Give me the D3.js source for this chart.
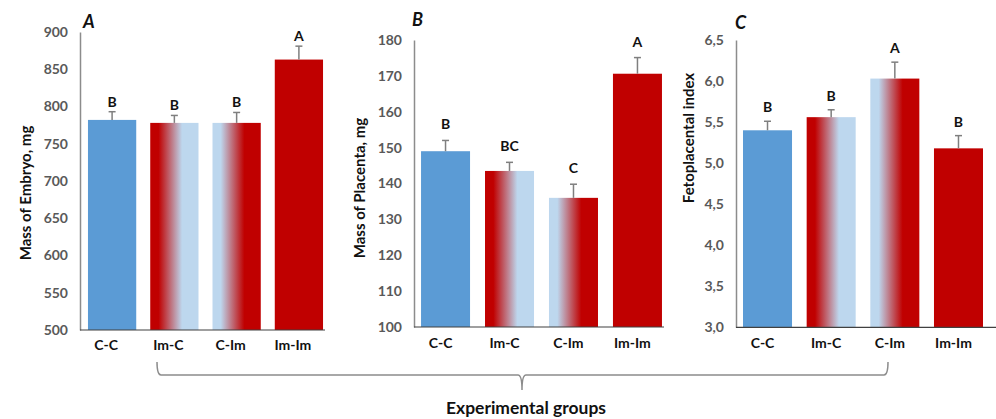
<!DOCTYPE html>
<html><head><meta charset="utf-8">
<script src="https://cdn.jsdelivr.net/npm/d3@7"></script>
<style>
html,body{margin:0;padding:0;background:#fff;}
text{font-family:Lato,"Liberation Sans",Arial,sans-serif;}
</style></head>
<body><svg id="chart" width="996" height="419"></svg>
<script>
const groups = ["C-C","Im-C","C-Im","Im-Im"];
const fills = ["blue","redToBlue","blueToRed","red"];

const embryoMass = [782, 778, 778, 863];
const embryoErr = [11, 10, 14, 18];
const embryoLetters = ["B","B","B","A"];
const embryoTicks = [500,550,600,650,700,750,800,850,900];

const placentaMass = [149, 143.5, 136, 170.6];
const placentaErr = [3, 2.4, 3.8, 4.5];
const placentaLetters = ["B","BC","C","A"];
const placentaTicks = [100,110,120,130,140,150,160,170,180];

const fpIndex = [5.40, 5.56, 6.03, 5.18];
const fpErr = [0.11, 0.09, 0.20, 0.155];
const fpLetters = ["B","B","A","B"];
const fpTicks = [3.0,3.5,4.0,4.5,5.0,5.5,6.0,6.5];

const panelTitles = ["A","B","C"];
const yTitles = ["Mass of Embryo, mg","Mass of Placenta, mg","Fetoplacental index"];
const xTitle = "Experimental groups";

const svg = d3.select("#chart");
const defs = svg.append("defs");
const RED = "#c00000", BLUE = "#5b9bd5", LIGHT = "#bdd7ee";
function grad(id, c1, c2){
  const g = defs.append("linearGradient").attr("id", id).attr("x1","0%").attr("x2","100%").attr("y1","0%").attr("y2","0%");
  [[0,c1],[0.17,c1],[0.66,c2],[1,c2]].forEach(([o,c]) => g.append("stop").attr("offset", o).attr("stop-color", c));
}
grad("redToBlue", RED, LIGHT);
grad("blueToRed", LIGHT, RED);
const fillMap = {blue: BLUE, red: RED, redToBlue: "url(#redToBlue)", blueToRed: "url(#blueToRed)"};

const panels = [
  {values: embryoMass, err: embryoErr, letters: embryoLetters, ticks: embryoTicks, fmt: d3.format("d"),
   domain:[500,900], yRange:[330,32], xRange:[80,331], pad:0.225, outer:0.128, axisEnd:325,
   titleX:83, titleY:28, yLabelX:26, yLabelY:193, letterGap:5, xLabelY:350, labelShift:-6},
  {values: placentaMass, err: placentaErr, letters: placentaLetters, ticks: placentaTicks, fmt: d3.format("d"),
   domain:[100,180], yRange:[327,40], xRange:[414,669], pad:0.234, outer:0.11, axisEnd:664,
   titleX:412, titleY:26, yLabelX:360, yLabelY:188, letterGap:11, xLabelY:348, labelShift:-5},
  {values: fpIndex, err: fpErr, letters: fpLetters, ticks: fpTicks, fmt: d => d3.format(".1f")(d).replace(".", ","),
   domain:[3,6.5], yRange:[327.3,40], xRange:[736,990], pad:0.23, outer:0.11, axisEnd:996,
   titleX:735, titleY:29, yLabelX:689, yLabelY:138, letterGap:9, xLabelY:348, labelShift:-5}
];

panels.forEach((p, pi) => {
  const g = svg.append("g");
  const y = d3.scaleLinear().domain(p.domain).range(p.yRange);
  const x = d3.scaleBand().domain(groups).range(p.xRange).paddingInner(p.pad).paddingOuter(p.outer);

  // y axis
  const yAxis = d3.axisLeft(y).tickValues(p.ticks).tickFormat(p.fmt).tickSize(0).tickPadding(12);
  const ya = g.append("g").attr("transform", `translate(${p.xRange[0]},0)`).call(yAxis);
  ya.select(".domain").attr("stroke", "#8c8c8c").attr("stroke-width", 1.5);
  ya.selectAll("text").attr("fill", "#595959").attr("font-size", 14).attr("font-weight", "bold")
    .style("font-family", "Lato, 'Liberation Sans', sans-serif");

  // bars
  g.selectAll("rect.bar").data(p.values).join("rect").attr("class","bar")
    .attr("x", (d,i) => x(groups[i])).attr("width", x.bandwidth())
    .attr("y", d => y(d)).attr("height", d => y(p.domain[0]) - y(d))
    .attr("fill", (d,i) => fillMap[fills[i]]);

  // baseline
  g.append("line").attr("x1", p.xRange[0]).attr("x2", p.axisEnd)
    .attr("y1", y(p.domain[0])).attr("y2", y(p.domain[0]))
    .attr("stroke", "#404040").attr("stroke-width", 1.2);

  // error bars
  p.values.forEach((v, i) => {
    const cx = x(groups[i]) + x.bandwidth()/2;
    const top = y(v + p.err[i]);
    g.append("line").attr("x1", cx).attr("x2", cx).attr("y1", y(v)).attr("y2", top)
      .attr("stroke", "#7f7f7f").attr("stroke-width", 1.5);
    g.append("line").attr("x1", cx-3.5).attr("x2", cx+3.5).attr("y1", top).attr("y2", top)
      .attr("stroke", "#7f7f7f").attr("stroke-width", 1.5);
    g.append("text").attr("x", cx).attr("y", top - p.letterGap).attr("text-anchor","middle")
      .attr("font-size", 14).attr("font-weight","bold").attr("fill","#111").text(p.letters[i]);
    g.append("text").attr("x", cx + p.labelShift).attr("y", p.xLabelY).attr("text-anchor","middle")
      .attr("font-size", 14).attr("font-weight","bold").attr("fill","#111").text(groups[i]);
  });

  // panel title
  g.append("text").attr("x", p.titleX).attr("y", p.titleY).attr("font-size", 18)
    .attr("font-weight","bold").attr("font-style","italic").attr("fill","#111").text(panelTitles[pi]);

  // y title
  g.append("text").attr("transform", `translate(${p.yLabelX},${p.yLabelY}) rotate(-90)`)
    .attr("text-anchor","middle").attr("dy","0.35em").attr("font-size", 15).attr("font-weight","bold")
    .attr("fill","#111").text(yTitles[pi]);
});

// brace
const bx0 = 157, bx1 = 888, bm = 522, by = 375, btop = 362, btip = 390;
svg.append("path")
  .attr("d", `M${bx0},${btop} Q${bx0},${by} ${bx0+4},${by} L${bm-4},${by} Q${bm},${by} ${bm},${btip} Q${bm},${by} ${bm+4},${by} L${bx1-4},${by} Q${bx1},${by} ${bx1},${btop}`)
  .attr("fill","none").attr("stroke","#8c8c8c").attr("stroke-width",1.5);

svg.append("text").attr("x", bm+4).attr("y", 414).attr("text-anchor","middle")
  .attr("font-size", 17).attr("font-weight","bold").attr("fill","#111")
  .attr("textLength", 160).attr("lengthAdjust","spacingAndGlyphs")
  .style("font-family", "'Liberation Sans Narrow', Lato, sans-serif").text(xTitle);
</script></body></html>
